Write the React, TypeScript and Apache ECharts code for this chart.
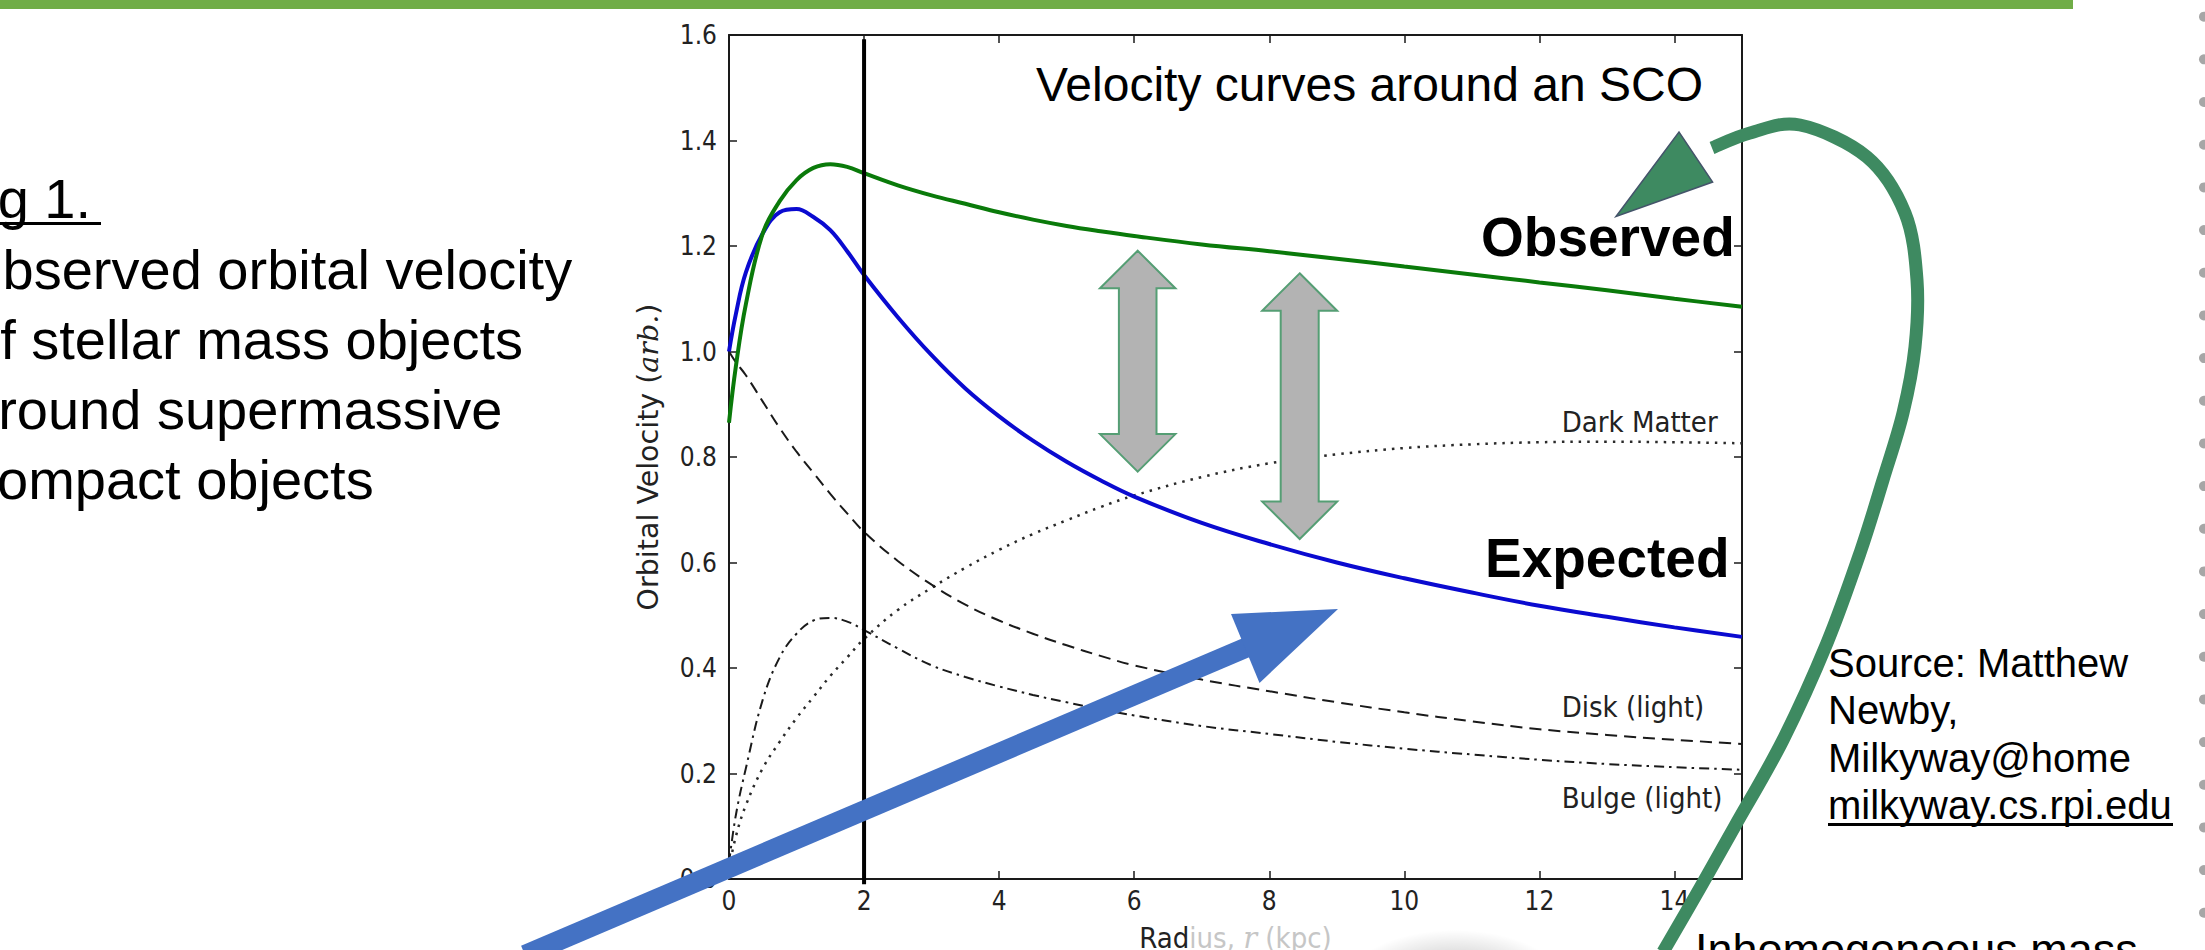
import React, { useEffect, useRef } from "react";
import * as echarts from "echarts";

// ---------- data ----------
const radius = [0, 0.1, 0.25, 0.5, 0.75, 1, 1.25, 1.5, 1.75, 2, 2.5, 3, 3.5, 4, 4.5, 5, 5.5, 6, 7, 8, 9, 10, 11, 12, 13, 14, 15];
const observed = [0.865, 0.97, 1.09, 1.224, 1.285, 1.325, 1.348, 1.355, 1.35, 1.338, 1.315, 1.296, 1.28, 1.264, 1.25, 1.238, 1.228, 1.219, 1.203, 1.19, 1.176, 1.161, 1.146, 1.131, 1.116, 1.1, 1.085];
const expected = [1.0, 1.07, 1.15, 1.224, 1.264, 1.27, 1.255, 1.23, 1.19, 1.145, 1.065, 0.993, 0.93, 0.877, 0.831, 0.791, 0.756, 0.725, 0.675, 0.635, 0.6, 0.57, 0.543, 0.518, 0.497, 0.477, 0.459];
const darkMatter = [0.02, 0.08, 0.14, 0.21, 0.26, 0.305, 0.345, 0.385, 0.42, 0.455, 0.51, 0.552, 0.59, 0.624, 0.654, 0.68, 0.705, 0.727, 0.762, 0.788, 0.805, 0.817, 0.824, 0.828, 0.829, 0.828, 0.826];
const disk = [1.0, 0.98, 0.955, 0.905, 0.855, 0.81, 0.77, 0.73, 0.693, 0.658, 0.603, 0.558, 0.52, 0.49, 0.465, 0.443, 0.423, 0.405, 0.378, 0.356, 0.335, 0.316, 0.299, 0.284, 0.273, 0.264, 0.256];
const bulge = [0.03, 0.12, 0.21, 0.34, 0.42, 0.465, 0.49, 0.495, 0.488, 0.472, 0.437, 0.405, 0.383, 0.365, 0.349, 0.335, 0.322, 0.31, 0.29, 0.275, 0.26, 0.247, 0.236, 0.226, 0.218, 0.212, 0.207];
const markerRadius = 2; // vertical black line at r = 2 kpc

const slideLines = ["Fig 1.", "Observed orbital velocity", "of stellar mass objects", "around supermassive", "compact objects"];
const sourceLines = ["Source: Matthew", "Newby,", "Milkyway@home", "milkyway.cs.rpi.edu"];
const plotTitle = "Velocity curves around an SCO";

// ---------- layout / style ----------
const W = 2205;
const H = 950;
const G = { left: 729, top: 35, width: 1013, height: 844 };
const FONT_C = '"DejaVu Sans Condensed", "DejaVu Sans", sans-serif';
const FONT_D = '"DejaVu Sans", sans-serif';
const SERIF_I = '"DejaVu Serif", serif';
const ARIAL = '"Liberation Sans", Arial, sans-serif';

const pairs = (ys: number[]) => radius.map((r, i) => [r, ys[i]]);
const px = (x: number, y: number) => [G.left + (x / 15) * G.width, G.top + G.height - (y / 1.6) * G.height];

function catmullRom(p: number[][]): string {
  let d = `M${p[0][0]},${p[0][1]}`;
  for (let i = 0; i < p.length - 1; i++) {
    const p0 = p[i - 1] || p[i];
    const p1 = p[i];
    const p2 = p[i + 1];
    const p3 = p[i + 2] || p2;
    const c1x = p1[0] + (p2[0] - p0[0]) / 6;
    const c1y = p1[1] + (p2[1] - p0[1]) / 6;
    const c2x = p2[0] - (p3[0] - p1[0]) / 6;
    const c2y = p2[1] - (p3[1] - p1[1]) / 6;
    d += ` C${c1x},${c1y} ${c2x},${c2y} ${p2[0]},${p2[1]}`;
  }
  return d;
}

const bendPts = [
  [1663, 952], [1700, 888], [1735, 826], [1783, 740], [1827, 643], [1860, 553], [1883, 480],
  [1903, 413], [1915, 347], [1917, 280], [1905, 213], [1867, 157], [1800, 125], [1750, 133], [1712, 148],
];

function doubleArrow(cx: number, top: number, bottom: number, headHalf: number, shaftHalf: number, headLen: number) {
  return [
    [cx, top], [cx + headHalf, top + headLen], [cx + shaftHalf, top + headLen], [cx + shaftHalf, bottom - headLen],
    [cx + headHalf, bottom - headLen], [cx, bottom], [cx - headHalf, bottom - headLen], [cx - shaftHalf, bottom - headLen],
    [cx - shaftHalf, top + headLen], [cx - headHalf, top + headLen],
  ];
}

export default function App() {
  const ref = useRef<HTMLDivElement>(null);
  useEffect(() => {
    document.body.style.margin = "0";
    const chart = echarts.init(ref.current as HTMLDivElement, null, { renderer: "svg" });
    echarts.graphic.registerShape("bendArrow", echarts.graphic.extendPath(catmullRom(bendPts), {}));

    const axisLineStyle = { color: "#1a1a1a", width: 2 };
    const tickStyle = { show: true, inside: true, length: 8, lineStyle: { color: "#1a1a1a", width: 1.5 } };

    const elements: any[] = [];
    // top green bar
    elements.push({ type: "rect", shape: { x: 0, y: 0, width: 2073, height: 9 }, style: { fill: "#70AD47" }, z: 60 });
    // right-edge dots
    for (let i = 0; i < 22; i++) {
      elements.push({ type: "circle", shape: { cx: 2204, cy: 16.7 + 42.67 * i, r: 5 }, style: { fill: "#A6A6A6" }, z: 60 });
    }
    // left slide text (cut by the left edge, as in the slide)
    const baselines = [218, 289, 359, 429, 499];
    const lineX = [-49, -41, -31, -33, -31];
    slideLines.forEach((t, i) => {
      elements.push({
        type: "text", x: lineX[i], y: baselines[i] - 20, z: 60,
        style: { text: t, fill: "#000", fontFamily: ARIAL, fontSize: 56, align: "left", verticalAlign: "middle" },
      });
    });
    elements.push({ type: "rect", shape: { x: -49, y: 222, width: 150, height: 3 }, style: { fill: "#000" }, z: 60 });

    // plot title
    elements.push({
      type: "text", x: 1036, y: 84, z: 60,
      style: { text: plotTitle, fill: "#000", fontFamily: ARIAL, fontSize: 48, align: "left", verticalAlign: "middle" },
    });
    // Observed / Expected
    elements.push({
      type: "text", x: 1481, y: 237, z: 60,
      style: { text: "Observed", fill: "#000", fontFamily: ARIAL, fontWeight: "bold", fontSize: 55, align: "left", verticalAlign: "middle" },
    });
    elements.push({
      type: "text", x: 1485, y: 558, z: 60,
      style: { text: "Expected", fill: "#000", fontFamily: ARIAL, fontWeight: "bold", fontSize: 55, align: "left", verticalAlign: "middle" },
    });
    // curve labels
    const labs: [string, number, number][] = [["Dark Matter", 12.33, 0.866], ["Disk (light)", 12.33, 0.326], ["Bulge (light)", 12.33, 0.154]];
    labs.forEach(([t, x, y]) => {
      const p = px(x, y);
      elements.push({
        type: "text", x: p[0], y: p[1], z: 60,
        style: { text: t, fill: "#222", fontFamily: FONT_C, fontSize: 29, align: "left", verticalAlign: "middle" },
      });
    });
    // gray double arrows
    elements.push({
      type: "polygon", z: 70, shape: { points: doubleArrow(1137.7, 250.7, 471.7, 37.7, 18.8, 37.6) },
      style: { fill: "#B3B3B3", stroke: "#559E74", lineWidth: 2 },
    });
    elements.push({
      type: "polygon", z: 70, shape: { points: doubleArrow(1299.7, 273.3, 539, 37.5, 19, 37.4) },
      style: { fill: "#B3B3B3", stroke: "#559E74", lineWidth: 2 },
    });
    // blue straight arrow
    elements.push({ type: "line", z: 80, shape: { x1: 525, y1: 955, x2: 1250, y2: 646 }, style: { stroke: "#4472C4", lineWidth: 20 } });
    elements.push({
      type: "polygon", z: 80, shape: { points: [[1338, 609], [1231, 614], [1259.5, 683]] },
      style: { fill: "#4472C4" },
    });
    // green bent arrow
    elements.push({ type: "bendArrow", x: 0, y: 0, z: 80, style: { fill: "none", stroke: "#3E8A61", lineWidth: 13 } });
    elements.push({
      type: "polygon", z: 81, shape: { points: [[1616, 216.5], [1679, 132], [1712.6, 182]] },
      style: { fill: "#3E8A61", stroke: "#44546A", lineWidth: 1.5 },
    });
    // source text
    const srcBase = [677, 724, 772, 819];
    sourceLines.forEach((t, i) => {
      elements.push({
        type: "text", x: 1828, y: srcBase[i] - 14, z: 60,
        style: { text: t, fill: "#000", fontFamily: ARIAL, fontSize: 40, align: "left", verticalAlign: "middle" },
      });
    });
    elements.push({ type: "rect", shape: { x: 1828, y: 823, width: 345, height: 3 }, style: { fill: "#000" }, z: 60 });
    // bottom cut-off text
    elements.push({
      type: "text", x: 1695, y: 949, z: 60,
      style: { text: "Inhomogeneous mass", fill: "#000", fontFamily: ARIAL, fontSize: 45, align: "left", verticalAlign: "middle" },
    });
    // soft gray shadow at bottom
    elements.push({
      type: "ellipse", z: 1, shape: { cx: 1455, cy: 985, rx: 110, ry: 55 },
      style: {
        fill: new echarts.graphic.RadialGradient(0.5, 0.5, 0.5, [
          { offset: 0, color: "rgba(0,0,0,0.35)" },
          { offset: 0.6, color: "rgba(0,0,0,0.12)" },
          { offset: 1, color: "rgba(0,0,0,0)" },
        ]),
      },
    });

    const lineSeries = (name: string, ys: number[], color: string, width: number, type: any) => ({
      name, type: "line", data: pairs(ys), showSymbol: false, symbol: "none", smooth: 0.4,
      lineStyle: { color, width, type, cap: "butt" }, z: 3,
    });

    const option: any = {
      animation: false,
      backgroundColor: "#ffffff",
      grid: { ...G, containLabel: false, outerBoundsMode: "none" },
      xAxis: [
        {
          type: "value", min: 0, max: 15, interval: 2, position: "bottom",
          axisLine: { show: true, onZero: false, lineStyle: axisLineStyle },
          axisTick: tickStyle,
          axisLabel: { color: "#222", fontFamily: FONT_C, fontSize: 26, margin: 9, formatter: (v: number) => (v === 15 ? "" : String(v)) },
          splitLine: { show: false },
          name: "{a|Rad}{b|ius, }{c|r}{b| (kpc)}", nameLocation: "middle", nameGap: 44,
          nameTextStyle: {
            rich: {
              a: { color: "#222", fontFamily: FONT_C, fontSize: 29 },
              b: { color: "#c6c6c6", fontFamily: FONT_C, fontSize: 29 },
              c: { color: "#c6c6c6", fontFamily: SERIF_I, fontStyle: "italic", fontSize: 29 },
            },
          },
        },
        {
          type: "value", min: 0, max: 15, interval: 2, position: "top",
          axisLine: { show: true, onZero: false, lineStyle: axisLineStyle },
          axisTick: tickStyle, axisLabel: { show: false }, splitLine: { show: false },
        },
      ],
      yAxis: [
        {
          type: "value", min: 0, max: 1.6, interval: 0.2, position: "left",
          axisLine: { show: true, onZero: false, lineStyle: axisLineStyle },
          axisTick: tickStyle,
          axisLabel: { color: "#222", fontFamily: FONT_C, fontSize: 26, margin: 12, formatter: (v: number) => v.toFixed(1) },
          splitLine: { show: false },
          name: "{a|Orbital Velocity (}{i|arb.}{a|)}", nameLocation: "middle", nameGap: 66,
          nameTextStyle: {
            rich: {
              a: { color: "#222", fontFamily: FONT_D, fontSize: 28.5 },
              i: { color: "#222", fontFamily: SERIF_I, fontStyle: "italic", fontSize: 28.5 },
            },
          },
        },
        {
          type: "value", min: 0, max: 1.6, interval: 0.2, position: "right",
          axisLine: { show: true, onZero: false, lineStyle: axisLineStyle },
          axisTick: tickStyle, axisLabel: { show: false }, splitLine: { show: false },
        },
      ],
      series: [
        lineSeries("Dark Matter", darkMatter, "#2a2a2a", 2.5, [2.5, 6]),
        lineSeries("Disk (light)", disk, "#1a1a1a", 2, [12, 7]),
        lineSeries("Bulge (light)", bulge, "#1a1a1a", 2, [10, 5, 2.5, 5]),
        lineSeries("Expected", expected, "#0a0ad0", 4, "solid"),
        lineSeries("Observed", observed, "#0a7a0a", 4, "solid"),
        {
          name: "r = 2", type: "line", data: [[markerRadius, -0.01], [markerRadius, 1.592]], showSymbol: false, symbol: "none",
          clip: false, lineStyle: { color: "#000", width: 4 }, z: 4,
        },
      ],
      graphic: { elements },
    };
    chart.setOption(option);
    return () => chart.dispose();
  }, []);
  return <div ref={ref} style={{ width: W, height: H, background: "#fff" }} />;
}
